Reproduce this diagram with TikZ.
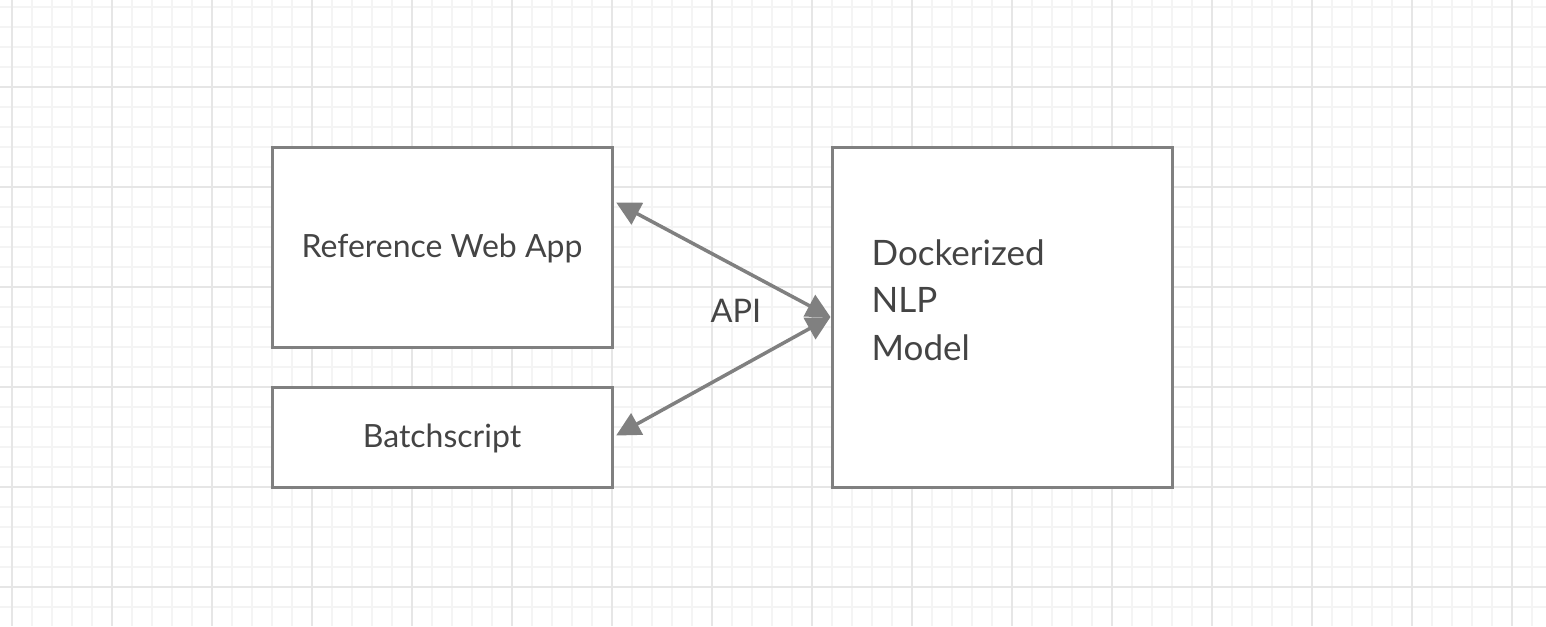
\documentclass[tikz,border=0pt]{standalone}
\usepackage{fontspec}
\setmainfont{Lato}
\usetikzlibrary{arrows.meta, positioning}
\usepackage{xcolor}
\definecolor{edgegray}{HTML}{808080}
\definecolor{textgray}{HTML}{444444}
\definecolor{minorgray}{HTML}{F4F4F4}
\definecolor{majorgray}{HTML}{E6E6E6}

\begin{document}
\begin{tikzpicture}[x=1pt, y=-1pt]
    % Styles
    \tikzstyle{block} = [rectangle, draw=edgegray, line width=3pt, fill=white, text=textgray, minimum width=340pt, inner sep=0pt, text height=28pt, text depth=8pt]
    \tikzstyle{line} = [draw=edgegray, line width=3.5pt, {Triangle[length=24pt, width=24pt]}-{Triangle[length=24pt, width=24pt]}, shorten >=3pt]
    \tikzstyle{minorline} = [draw=minorgray, line width=1.5pt]
    \tikzstyle{majorline} = [draw=majorgray, line width=2pt]

    % Background and grid
    \fill[white] (0,0) rectangle (1546,626);
    \useasboundingbox (0,0) rectangle (1546,626);
    \foreach \x in {12,32,...,1546} \draw[minorline] (\x,0) -- (\x,626);
    \foreach \y in {7,27,...,626} \draw[minorline] (0,\y) -- (1546,\y);
    \foreach \x in {12,112,...,1546} \draw[majorline] (\x,0) -- (\x,626);
    \foreach \y in {87,187,...,626} \draw[majorline] (0,\y) -- (1546,\y);

    % Nodes
    \node [block, minimum height=200pt, font=\fontsize{32}{38}\selectfont] (webapp) at (442,247) {Reference Web App};
    \node [block, minimum height=100pt, font=\fontsize{32}{38}\selectfont] (batch) at (442,437) {Batchscript};
    \node [block, minimum height=340pt] (model) at (1002,317) {};
    \node [right=41pt of model.west, anchor=west, yshift=17pt, align=left, text=textgray, inner sep=0pt, font=\fontsize{35}{47.5}\selectfont] (modeltext) {Dockerized\\NLP\\Model};

    % Edges
    \path [line] (model.west) -- (webapp.15.8);
    \path [line] (model.west) -- (batch.east);
    \node [text=textgray, font=\fontsize{32.5}{38}\selectfont] (api) at (736,311) {API};

\end{tikzpicture}
\end{document}
